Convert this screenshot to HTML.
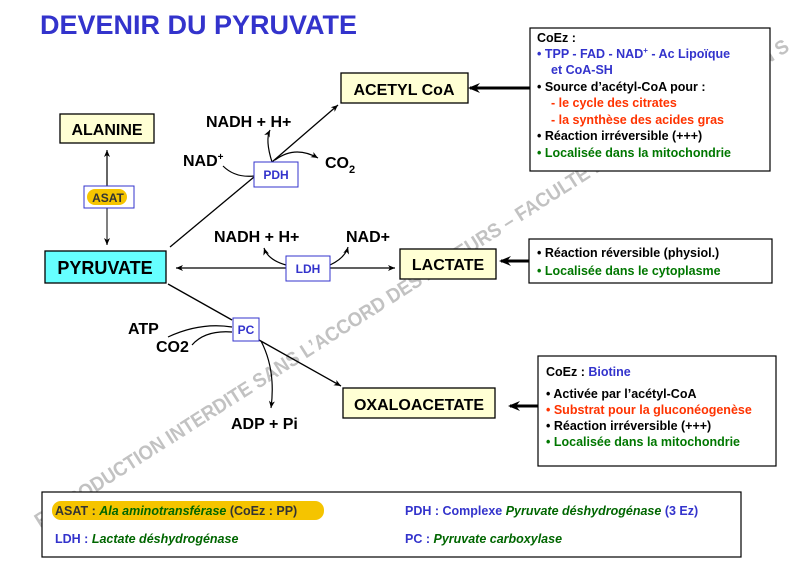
<!DOCTYPE html>
<html><head><meta charset="utf-8"><style>
html,body{margin:0;padding:0;background:#fff;width:797px;height:562px;overflow:hidden}
svg{display:block;font-family:"Liberation Sans",Arial,sans-serif}
</style></head><body>
<svg width="797" height="562" viewBox="0 0 797 562" xmlns="http://www.w3.org/2000/svg">
<defs>
<marker id="a" markerWidth="8" markerHeight="8" refX="7" refY="4" orient="auto" markerUnits="userSpaceOnUse"><path d="M0,1 L7,4 L0,7 L2,4z" fill="#000"/></marker>
<marker id="b" markerWidth="14" markerHeight="12" refX="10" refY="6" orient="auto" markerUnits="userSpaceOnUse"><path d="M0,1 L12,6 L0,11 L4,6z" fill="#000"/></marker>
</defs>
<text x="40" y="34" font-size="27" font-weight="bold" fill="#3333cc">DEVENIR DU PYRUVATE</text>

<!-- watermark -->
<text x="0" y="0" font-size="20" font-weight="bold" fill="#b8b8b8" opacity="0.85" transform="translate(40,528) rotate(-32.5)" textLength="890" lengthAdjust="spacingAndGlyphs">REPRODUCTION INTERDITE SANS L’ACCORD DES AUTEURS – FACULTÉ DE PHARMACIE – LYON  S</text>

<!-- lines -->
<line x1="107" y1="186" x2="107" y2="150" stroke="#000" stroke-width="1.2" marker-end="url(#a)"/>
<line x1="107" y1="208" x2="107" y2="245" stroke="#555" stroke-width="1.5" marker-end="url(#a)"/>
<line x1="170" y1="247" x2="254" y2="177" stroke="#000" stroke-width="1.3"/>
<line x1="272" y1="162" x2="338" y2="105" stroke="#000" stroke-width="1.3" marker-end="url(#a)"/>
<path d="M272,162 Q265,140 270,130" fill="none" stroke="#000" stroke-width="1.2" marker-end="url(#a)"/>
<path d="M275,160 Q295,145 318,158" fill="none" stroke="#000" stroke-width="1.2" marker-end="url(#a)"/>
<path d="M223,166 Q235,178 254,176" fill="none" stroke="#000" stroke-width="1.2"/>
<line x1="286" y1="268" x2="176" y2="268" stroke="#000" stroke-width="1.2" marker-end="url(#a)"/>
<line x1="330" y1="268" x2="395" y2="268" stroke="#000" stroke-width="1.2" marker-end="url(#a)"/>
<path d="M286,265 Q268,260 264,248" fill="none" stroke="#000" stroke-width="1.2" marker-end="url(#a)"/>
<path d="M330,265 Q345,258 348,247" fill="none" stroke="#000" stroke-width="1.2" marker-end="url(#a)"/>
<line x1="168" y1="284" x2="232" y2="320" stroke="#000" stroke-width="1.3"/>
<line x1="259" y1="340" x2="341" y2="386" stroke="#000" stroke-width="1.3" marker-end="url(#a)"/>
<path d="M168,337 Q200,322 232,327" fill="none" stroke="#000" stroke-width="1.2"/>
<path d="M192,345 Q205,330 232,332" fill="none" stroke="#000" stroke-width="1.2"/>
<path d="M261,341 Q276,370 271,408" fill="none" stroke="#000" stroke-width="1.2" marker-end="url(#a)"/>

<!-- thick arrows from info boxes -->
<line x1="530" y1="88" x2="470" y2="88" stroke="#000" stroke-width="3" marker-end="url(#b)"/>
<line x1="529" y1="261" x2="501" y2="261" stroke="#000" stroke-width="3" marker-end="url(#b)"/>
<line x1="538" y1="406" x2="510" y2="406" stroke="#000" stroke-width="3" marker-end="url(#b)"/>

<!-- nodes -->
<rect x="60" y="114" width="94" height="29" fill="#ffffd4" stroke="#000" stroke-width="1.3"/>
<text x="107" y="135" font-size="16" font-weight="bold" text-anchor="middle">ALANINE</text>
<rect x="341" y="73" width="127" height="30" fill="#ffffd4" stroke="#000" stroke-width="1.3"/>
<text x="404" y="95" font-size="16" font-weight="bold" text-anchor="middle">ACETYL CoA</text>
<rect x="45" y="251" width="121" height="32" fill="#66ffff" stroke="#000" stroke-width="1.3"/>
<text x="105" y="274" font-size="18" font-weight="bold" text-anchor="middle">PYRUVATE</text>
<rect x="400" y="249" width="96" height="30" fill="#ffffd4" stroke="#000" stroke-width="1.3"/>
<text x="448" y="270" font-size="16" font-weight="bold" text-anchor="middle">LACTATE</text>
<rect x="343" y="388" width="152" height="30" fill="#ffffd4" stroke="#000" stroke-width="1.3"/>
<text x="419" y="410" font-size="16" font-weight="bold" text-anchor="middle">OXALOACETATE</text>

<!-- enzymes -->
<rect x="84" y="186" width="50" height="22" fill="#fff" stroke="#3333cc"/>
<rect x="87" y="189" width="40" height="16" rx="8" fill="#f5c400"/>
<text x="108" y="202" font-size="12" font-weight="bold" fill="#333" text-anchor="middle">ASAT</text>
<rect x="254" y="162" width="44" height="25" fill="#fff" stroke="#3333cc"/>
<text x="276" y="179" font-size="12" font-weight="bold" fill="#3333cc" text-anchor="middle">PDH</text>
<rect x="286" y="256" width="44" height="25" fill="#fff" stroke="#3333cc"/>
<text x="308" y="273" font-size="12" font-weight="bold" fill="#3333cc" text-anchor="middle">LDH</text>
<rect x="233" y="318" width="26" height="23" fill="#fff" stroke="#3333cc"/>
<text x="246" y="334" font-size="12" font-weight="bold" fill="#3333cc" text-anchor="middle">PC</text>

<!-- cofactor labels -->
<g font-size="16" font-weight="bold">
<text x="206" y="127">NADH + H+</text>
<text x="183" y="166">NAD<tspan font-size="10" dy="-6">+</tspan></text>
<text x="325" y="168">CO<tspan font-size="11" dy="5">2</tspan></text>
<text x="214" y="242">NADH + H+</text>
<text x="346" y="242">NAD+</text>
<text x="128" y="334">ATP</text>
<text x="156" y="352">CO2</text>
<text x="231" y="429">ADP + Pi</text>
</g>

<!-- info boxes -->
<rect x="530" y="28" width="240" height="143" fill="#fff" stroke="#000" stroke-width="1.2"/>
<g font-size="12.5" font-weight="bold">
<text x="537" y="42">CoEz :</text>
<text x="537" y="58" fill="#3333cc">•  TPP - FAD - NAD<tspan font-size="8" dy="-5">+</tspan><tspan dy="5"> - Ac Lipoïque</tspan></text>
<text x="551" y="74" fill="#3333cc">et CoA-SH</text>
<text x="537" y="91">•  Source d’acétyl-CoA pour :</text>
<text x="551" y="107" fill="#ff3300">- le cycle des citrates</text>
<text x="551" y="124" fill="#ff3300">- la synthèse des acides gras</text>
<text x="537" y="140">•  Réaction irréversible (+++)</text>
<text x="537" y="157" fill="#007700">•  Localisée dans la mitochondrie</text>
</g>
<rect x="529" y="239" width="243" height="44" fill="#fff" stroke="#000" stroke-width="1.2"/>
<g font-size="12.5" font-weight="bold">
<text x="537" y="257">•  Réaction réversible (physiol.)</text>
<text x="537" y="275" fill="#007700">•  Localisée dans le cytoplasme</text>
</g>
<rect x="538" y="356" width="238" height="110" fill="#fff" stroke="#000" stroke-width="1.2"/>
<g font-size="12.5" font-weight="bold">
<text x="546" y="376">CoEz : <tspan fill="#3333cc">Biotine</tspan></text>
<text x="546" y="398">•  Activée par l’acétyl-CoA</text>
<text x="546" y="414" fill="#ff3300">•  Substrat pour la gluconéogenèse</text>
<text x="546" y="430">•  Réaction irréversible (+++)</text>
<text x="546" y="446" fill="#007700">•  Localisée dans la mitochondrie</text>
</g>

<!-- legend -->
<rect x="42" y="492" width="699" height="65" fill="#fff" stroke="#000" stroke-width="1.2"/>
<rect x="52" y="501" width="272" height="19" rx="9" fill="#f5c400"/>
<g font-size="12.5" font-weight="bold">
<text x="55" y="515" fill="#333">ASAT : <tspan fill="#006600" font-style="italic">Ala aminotransférase</tspan> (CoEz : PP)</text>
<text x="405" y="515" fill="#3333cc">PDH : Complexe <tspan fill="#006600" font-style="italic">Pyruvate déshydrogénase</tspan> (3 Ez)</text>
<text x="55" y="543" fill="#3333cc">LDH : <tspan fill="#006600" font-style="italic">Lactate déshydrogénase</tspan></text>
<text x="405" y="543" fill="#3333cc">PC : <tspan fill="#006600" font-style="italic">Pyruvate carboxylase</tspan></text>
</g>
</svg>
</body></html>
